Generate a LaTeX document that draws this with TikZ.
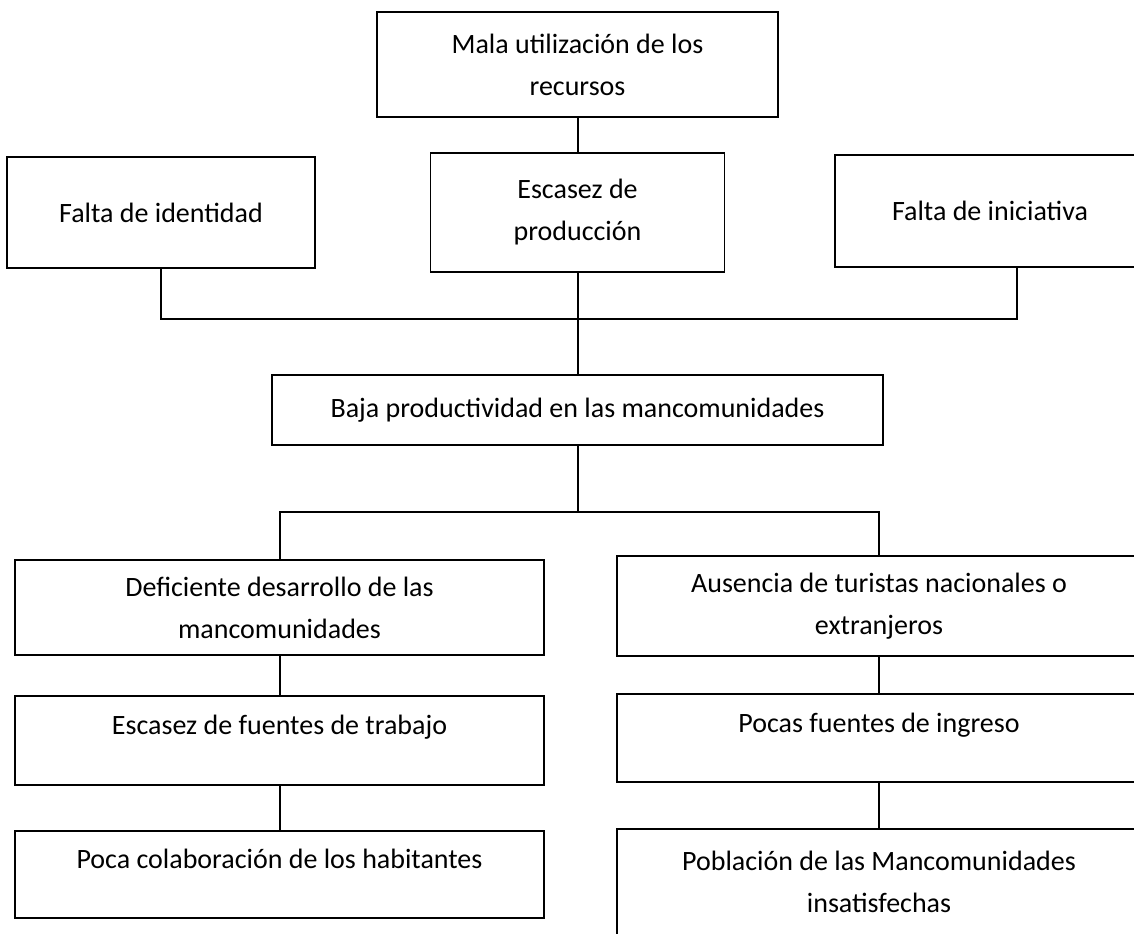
\documentclass[tikz,border=0pt]{standalone}
\usepackage{fontspec}
\setmainfont{Carlito}
\usepackage{tikz}

\tikzset{
	caja/.style={shape=rectangle, draw=black, line width=0.9pt, align=center,
		inner sep=0pt, font=\fontsize{14}{21}\selectfont},
	linea/.style={-, line width=1pt},
}

\begin{document}
\begin{tikzpicture}[x=0.5pt, y=-0.5pt]
	
	\useasboundingbox (0,0) rectangle (1134,933);
	\clip (0,0) rectangle (1134,933);
	
	\node[caja, minimum width=200.5pt, minimum height=52.5pt] (mala)  at (577.5, 64.5)  {Mala utilización de los\\recursos};
	\node[caja, minimum width=147pt, minimum height=59.5pt]   (prod)  at (577.5, 212.5) {Escasez de\\producción};
	\node[caja, minimum width=154pt, minimum height=55.5pt]   (ident) at (161, 212.5)   {Falta de identidad};
	\node[caja, minimum width=155pt, minimum height=56pt]     (inic)  at (990, 211)     {Falta de iniciativa};
	\node[caja, minimum width=305.5pt, minimum height=35pt]   (baja)  at (577.5, 410)   {Baja productividad en las mancomunidades};
	
	\node[caja, minimum width=264.5pt, minimum height=47.5pt] (defic) at (279.5, 607.5) {Deficiente desarrollo de las\\mancomunidades};
	\node[caja, minimum width=264.5pt, minimum height=44.5pt] (trab)  at (279.5, 740.5) {Escasez de fuentes de trabajo\\[-12pt] \strut};
	\node[caja, minimum width=264.5pt, minimum height=43.5pt] (poca)  at (279.5, 874.5) {Poca colaboración de los habitantes\\[-12pt] \strut};
	
	\node[caja, minimum width=262pt, minimum height=50pt]     (ausen) at (879, 606)     {Ausencia de turistas nacionales o\\extranjeros};
	\node[caja, minimum width=262pt, minimum height=44pt]     (ingr)  at (879, 738)     {Pocas fuentes de ingreso\\[-12pt] \strut};
	\node[caja, minimum width=262pt, minimum height=53pt]     (pobl)  at (879, 882)     {Población de las Mancomunidades\\insatisfechas};
	
	\coordinate (jizq) at (161, 319);
	\coordinate (jder) at (1017, 319);
	\coordinate (jbaja) at (577.5, 512);
	
	\path[linea] (mala.south) edge (prod.north);
	\path[linea] (prod.south) edge (baja.north);
	\draw[linea] (ident.south) -- (jizq) -- (jder) -- (jder |- inic.south);
	\path[linea] (baja.south) edge (jbaja);
	\draw[linea] (defic.north) |- (jbaja) -| (ausen.north);
	\path[linea] (defic.south) edge (trab.north);
	\path[linea] (trab.south) edge (poca.north);
	\path[linea] (ausen.south) edge (ingr.north);
	\path[linea] (ingr.south) edge (pobl.north);
	
\end{tikzpicture}
\end{document}
